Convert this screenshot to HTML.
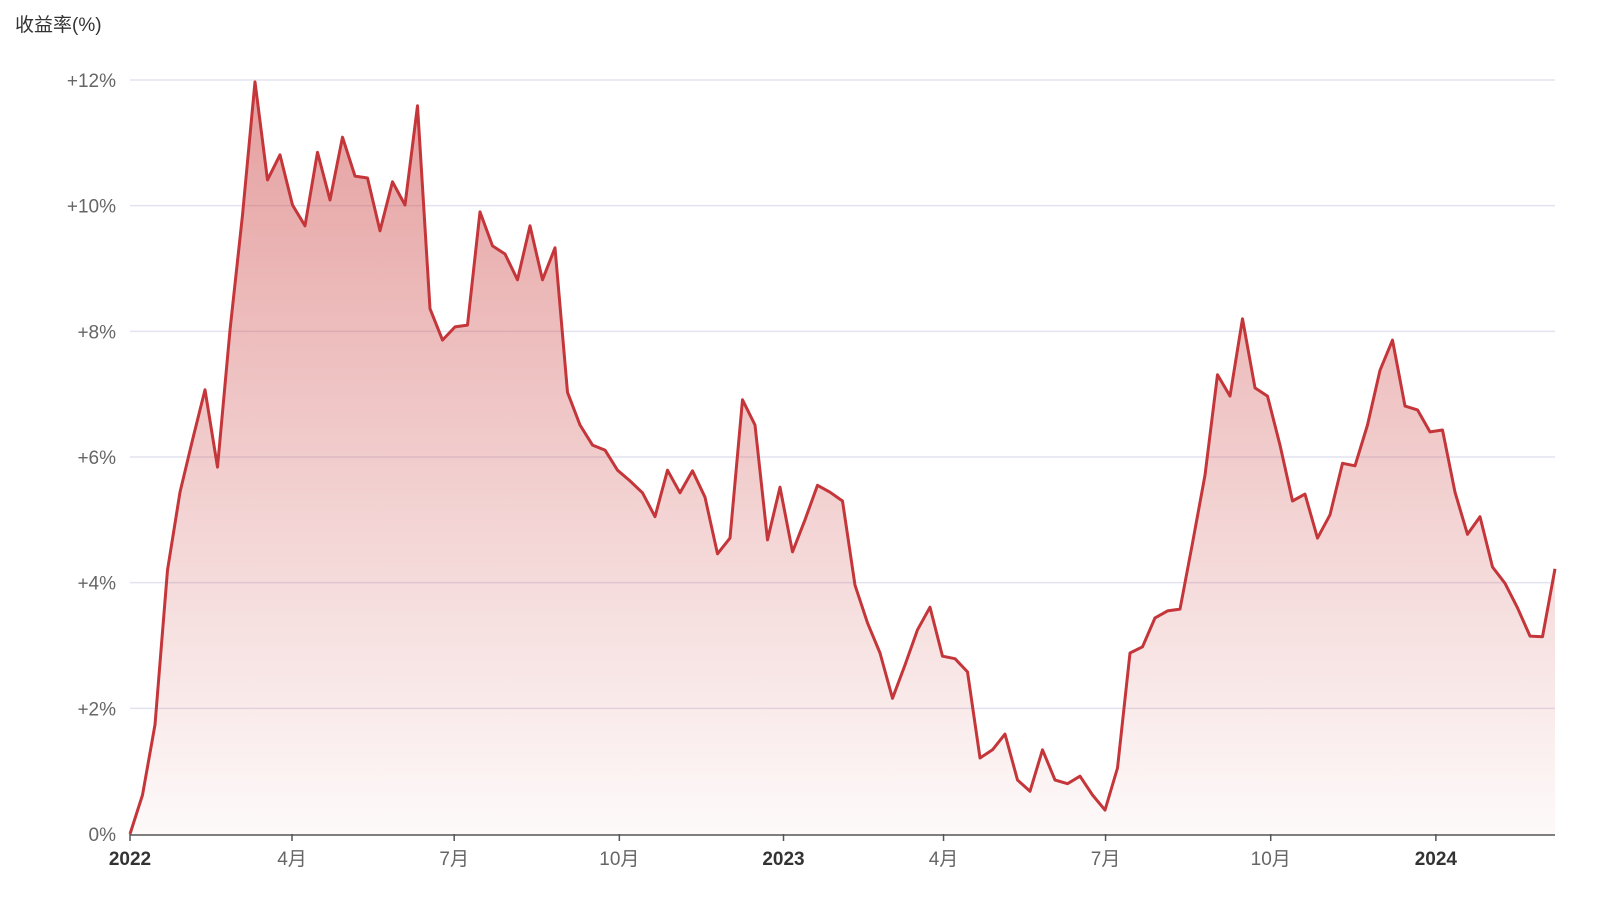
<!DOCTYPE html>
<html><head><meta charset="utf-8"><style>
html,body{margin:0;padding:0;background:#fff;}
svg{display:block;font-family:"Liberation Sans","Noto Sans CJK SC",sans-serif;}
</style></head><body>
<svg id="chart" width="1608" height="911">
<defs><linearGradient id="fillGrad" x1="0" y1="0" x2="0" y2="1">
<stop offset="0" stop-color="#d05050" stop-opacity="0.55"/>
<stop offset="1" stop-color="#d05050" stop-opacity="0.03"/>
</linearGradient></defs>
<text x="15" y="31" font-size="19" fill="#333">收益率(%)</text>
<g id="grid"></g><g id="area"></g><g id="xaxis"></g>
</svg>
<script>
const values=[0,0.62,1.74,4.20,5.44,6.27,7.07,5.84,8.02,9.85,11.97,10.41,10.81,10.01,9.68,10.85,10.09,11.09,10.47,10.44,9.60,10.38,10.01,11.59,8.36,7.86,8.07,8.10,9.90,9.36,9.23,8.82,9.68,8.82,9.33,7.03,6.51,6.19,6.11,5.79,5.62,5.43,5.05,5.79,5.43,5.78,5.36,4.46,4.71,6.91,6.51,4.68,5.52,4.49,5.00,5.55,5.44,5.30,3.96,3.36,2.88,2.16,2.69,3.25,3.61,2.83,2.79,2.58,1.21,1.34,1.59,0.86,0.68,1.34,0.86,0.80,0.92,0.62,0.38,1.05,2.88,2.98,3.44,3.55,3.58,4.63,5.71,7.31,6.97,8.20,7.10,6.97,6.19,5.30,5.41,4.71,5.08,5.90,5.86,6.51,7.38,7.86,6.81,6.75,6.40,6.43,5.44,4.77,5.05,4.25,3.99,3.60,3.15,3.14,4.22];
const yTicks=[0,2,4,6,8,10,12];
const xLabels=["2022","4月","7月","10月","2023","4月","7月","10月","2024"];
const xLabelPos=[0,0.1137,0.2275,0.3434,0.4586,0.5709,0.6846,0.8005,0.9164];
const xBold=[true,false,false,false,true,false,false,false,true];
const L=130,R=1555,T=80,B=834,ymax=12;
const ns="http://www.w3.org/2000/svg";
const X=i=>L+(R-L)*i/(values.length-1);
const Y=v=>B-(B-T)*v/ymax;
const XF=f=>L+(R-L)*f;
function mk(tag,attrs,parent){const e=document.createElementNS(ns,tag);for(const k in attrs)e.setAttribute(k,attrs[k]);parent.appendChild(e);return e;}
const grid=document.getElementById('grid');
yTicks.forEach(t=>{
 if(t>0){const g=mk('line',{x1:L,x2:R,y1:Y(t),y2:Y(t),stroke:'#e3e3f0','stroke-width':1.5},grid);
 
 }
 const tx=mk('text',{x:116,y:Y(t)+7,'text-anchor':'end','font-size':19,fill:'#666'},grid);
 tx.textContent=(t>0?'+':'')+t+'%';
 
 
});
const area=document.getElementById('area');
let d='';values.forEach((v,i)=>{d+=(i?'L':'M')+X(i).toFixed(1)+','+Y(v).toFixed(1);});
const fillP=mk('path',{d:d+'L'+X(values.length-1)+','+B+'L'+L+','+B+'Z',fill:'url(#fillGrad)'},area);


const lineP=mk('path',{d:d,fill:'none',stroke:'#c4363a','stroke-width':3,'stroke-linejoin':'round'},area);


const xa=document.getElementById('xaxis');
const ax=mk('line',{x1:L,x2:R,y1:B+1,y2:B+1,stroke:'#555','stroke-width':1.5},xa);


xLabels.forEach((s,k)=>{
 const x=XF(xLabelPos[k]);
 const tk=mk('line',{x1:x,x2:x,y1:B,y2:B+7,stroke:'#555','stroke-width':1.5},xa);
 
 
 const t=mk('text',{x:x,y:865,'text-anchor':'middle','font-size':19,fill:xBold[k]?'#333':'#666','font-weight':xBold[k]?'bold':'normal'},xa);
 t.textContent=s;
 
 
});
</script>
</body></html>
